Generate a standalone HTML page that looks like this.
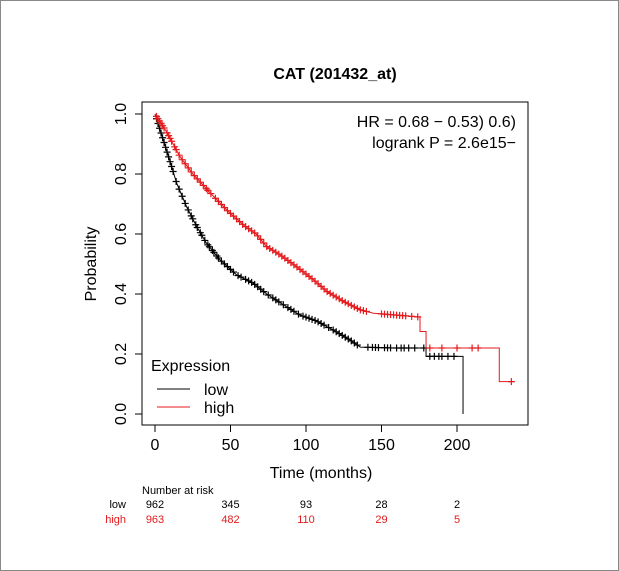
<!DOCTYPE html>
<html><head><meta charset="utf-8"><style>
body{margin:0;background:#fff}
svg{display:block;font-family:"Liberation Sans",Arial,sans-serif}
</style></head><body>
<svg id="chart" width="619" height="571" viewBox="0 0 619 571">
<rect x="0.5" y="0.5" width="618" height="570" fill="#fff" stroke="#888"/>
<text x="335" y="79" text-anchor="middle" font-size="16" font-weight="bold">CAT (201432_at)</text>
<rect x="142" y="102" width="386" height="323" fill="none" stroke="#000"/>
<g id="axes"></g>
<g id="series"></g>
<text x="516" y="127" text-anchor="end" font-size="16">HR = 0.68 − 0.53) 0.6)</text>
<text x="516" y="148" text-anchor="end" font-size="16">logrank P = 2.6e15−</text>
<text x="151" y="371" font-size="16">Expression</text>
<line x1="157" y1="389" x2="190" y2="389" stroke="#000"/>
<text x="204" y="395" font-size="16">low</text>
<line x1="157" y1="407" x2="190" y2="407" stroke="#e41a1c"/>
<text x="204" y="413" font-size="16">high</text>
<text x="96" y="264" text-anchor="middle" font-size="16" transform="rotate(-90 96 264)">Probability</text>
<text x="321" y="478" text-anchor="middle" font-size="16">Time (months)</text>
<text x="142" y="494" font-size="11">Number at risk</text>
<text x="126" y="508" text-anchor="end" font-size="11">low</text>
<text x="126" y="523" text-anchor="end" font-size="11" fill="#e41a1c">high</text>
<g id="risk"></g>
</svg>
<script>
const xTicks=[0,50,100,150,200];
const yTicks=[0,0.2,0.4,0.6,0.8,1.0];
const lowT=[0,5.5,11,14.3,21,27.6,34,43,54,65,74,85,96,107,118,129,136,158,179.5,179.5,204,204];
const lowS=[1,0.913,0.825,0.77,0.69,0.625,0.57,0.514,0.464,0.436,0.40,0.364,0.33,0.31,0.28,0.247,0.223,0.22,0.22,0.192,0.192,0];
const highT=[0,7.7,16.5,25,36,47.5,58.5,67,74,83,94,105,114,125,136,144.6,175.5,175.5,179.5,179.5,228,228,238];
const highS=[1,0.94,0.858,0.80,0.74,0.68,0.63,0.60,0.558,0.53,0.49,0.447,0.408,0.375,0.347,0.336,0.323,0.275,0.275,0.22,0.22,0.108,0.108];
const lowCensor=[1,2,3,4,5,6,7,8,9,10,11,12,14,16,18,20,22,24,25,27,28,30,31,33,35,36,38,39,41,42,44,46,48,50,52,55,57,60,62,64,66,68,70,72,75,78,80,82,85,88,90,92,95,98,100,102,104,106,108,110,112,115,118,120,122,124,126,128,130,132,134,141,144,146,148,152,154,156,160,163,165,168,172,178,182,185,188,190,194,198];
const highCensor=[1,2,3,4,5,6,8,9,10,11,13,14,16,18,20,22,24,26,28,30,32,34,35,37,40,42,44,46,48,50,52,54,56,58,60,62,64,66,68,70,72,74,76,78,80,82,84,86,88,90,92,94,96,98,100,102,104,106,108,110,112,114,116,118,120,122,124,126,128,130,132,134,136,138,140,150,152,154,156,158,160,162,164,166,170,174,182,190,200,210,214,236];
const riskLow=[962,345,93,28,2];
const riskHigh=[963,482,110,29,5];
const X=t=>155+t*(457-155)/200;
const Y=s=>414-s*300;
const NS="http://www.w3.org/2000/svg";
function mk(tag,at,parent){const e=document.createElementNS(NS,tag);for(const k in at)e.setAttribute(k,at[k]);parent.appendChild(e);return e;}
const axes=document.getElementById('axes');
xTicks.forEach(v=>{
 const l=mk('line',{x1:X(v),x2:X(v),y1:425,y2:432,stroke:'#000'},axes);
 
 
 const t=mk('text',{x:X(v),y:450,'text-anchor':'middle','font-size':16},axes);t.textContent=v;
 
 
});
yTicks.forEach(v=>{
 const l=mk('line',{x1:135,x2:142,y1:Y(v),y2:Y(v),stroke:'#000'},axes);
 
 
 const t=mk('text',{x:0,y:0,'text-anchor':'middle','font-size':16,transform:`translate(121 ${Y(v)}) rotate(-90)`,dy:5},axes);t.textContent=v.toFixed(1);
 
 
});
function interp(T,S,t){let s=S[0];for(let i=0;i<T.length;i++){if(T[i]<=t)s=S[i];else{const a=T[i-1],b=T[i];if(b>a)s=S[i-1]+(S[i]-S[i-1])*(t-a)/(b-a);break;}}return s;}
function series(T,S,C,color,name){
 const g=document.getElementById('series');
 const pts=T.map((t,i)=>X(t)+','+Y(S[i])).join(' ');
 const p=mk('polyline',{points:pts,fill:'none',stroke:color,'stroke-width':1},g);
 
 
 C.forEach(t=>{
  const x=X(t),y=Y(interp(T,S,t));
  const m=mk('path',{d:`M${x-3.5},${y}H${x+3.5}M${x},${y-3.5}V${y+3.5}`,stroke:color,'stroke-width':1.2},g);
  
  
 });
}
series(lowT,lowS,lowCensor,'#000','low');
series(highT,highS,highCensor,'#e41a1c','high');
const risk=document.getElementById('risk');
xTicks.forEach((v,i)=>{
 const a=mk('text',{x:X(v),y:508,'text-anchor':'middle','font-size':11},risk);a.textContent=riskLow[i];
 
 
 const b=mk('text',{x:X(v),y:523,'text-anchor':'middle','font-size':11,fill:'#e41a1c'},risk);b.textContent=riskHigh[i];
 
 
});
</script>
</body></html>
